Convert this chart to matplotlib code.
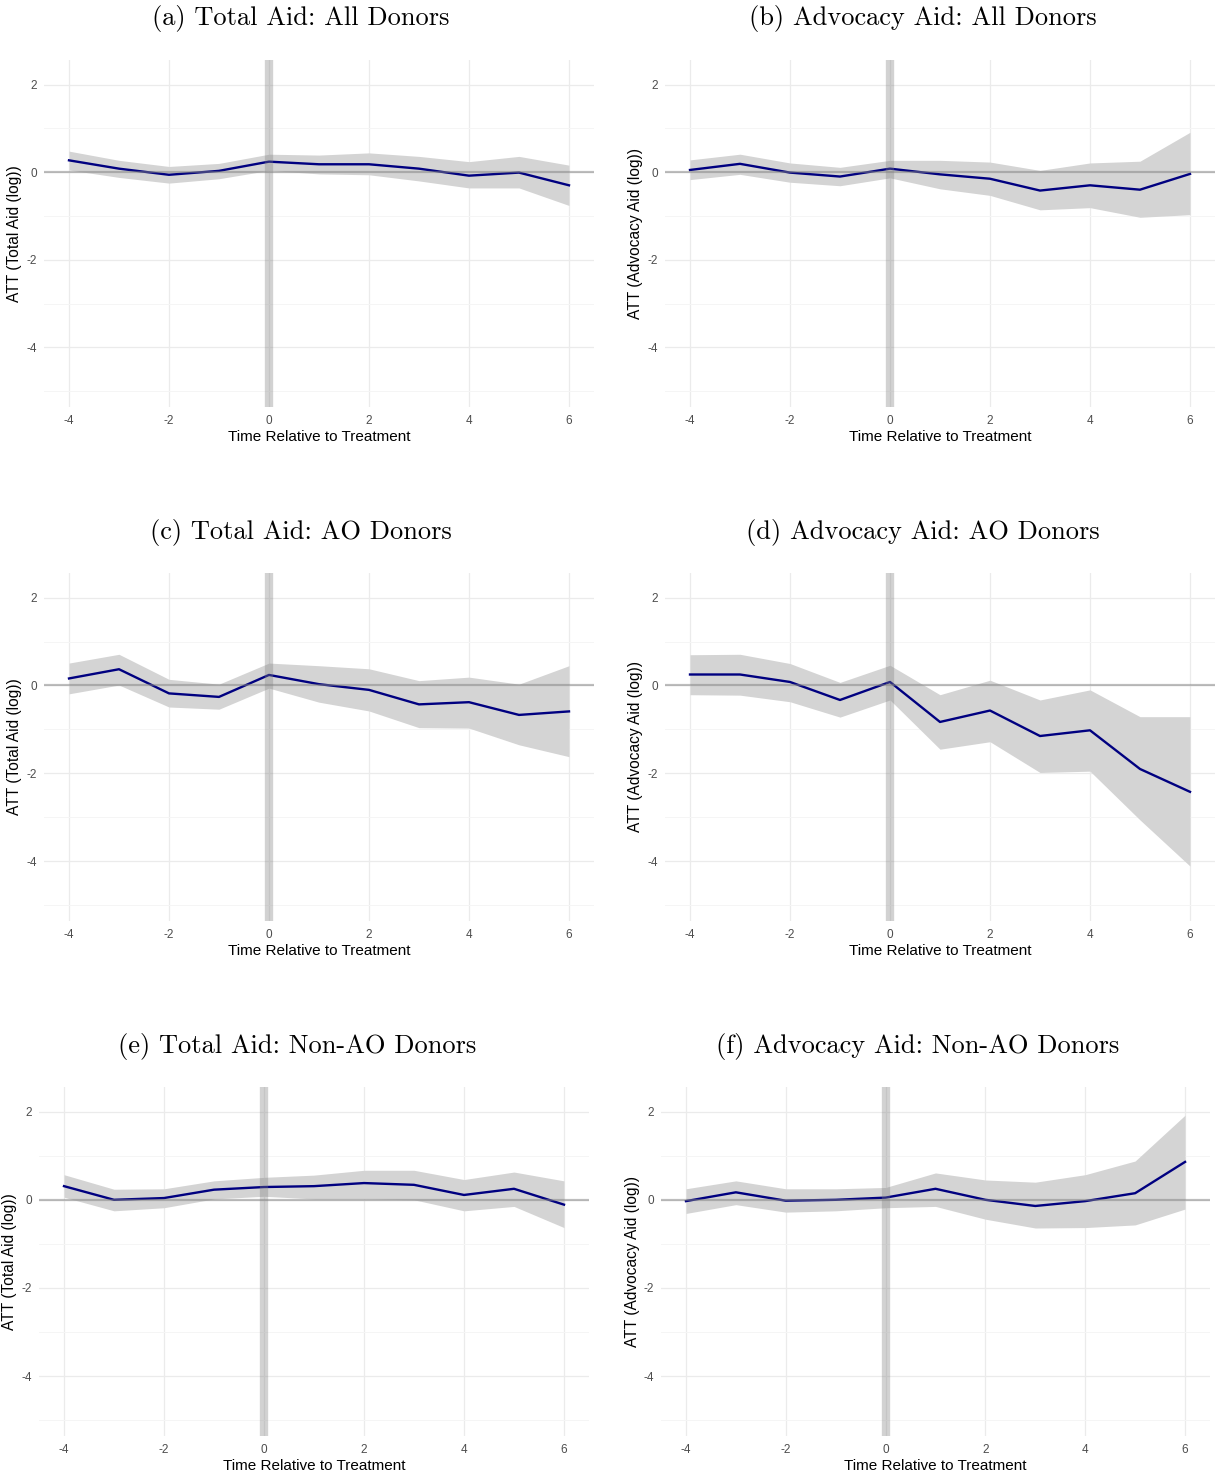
import matplotlib
matplotlib.use("Agg")
import matplotlib.pyplot as plt
import numpy as np

plt.rcParams["font.family"] = ["Liberation Sans", "DejaVu Sans"]
plt.rcParams["axes.unicode_minus"] = False

# Event time
czas = np.arange(-4, 7)

# (a) Total Aid: All Donors
a_att = [0.27, 0.08, -0.06, 0.03, 0.24, 0.18, 0.18, 0.08, -0.08, -0.01, -0.30]
a_gora = [0.48, 0.27, 0.13, 0.20, 0.41, 0.39, 0.44, 0.36, 0.24, 0.36, 0.16]
a_dol = [0.05, -0.12, -0.25, -0.15, 0.04, -0.04, -0.06, -0.20, -0.36, -0.36, -0.76]

# (b) Advocacy Aid: All Donors
b_att = [0.05, 0.19, -0.01, -0.10, 0.08, -0.05, -0.15, -0.42, -0.30, -0.40, -0.04]
b_gora = [0.28, 0.41, 0.21, 0.11, 0.27, 0.27, 0.23, 0.04, 0.21, 0.25, 0.91]
b_dol = [-0.17, -0.05, -0.23, -0.31, -0.13, -0.38, -0.53, -0.86, -0.81, -1.03, -0.97]

# (c) Total Aid: AO Donors
c_att = [0.16, 0.37, -0.18, -0.26, 0.24, 0.03, -0.10, -0.43, -0.38, -0.67, -0.59]
c_gora = [0.51, 0.71, 0.14, 0.03, 0.51, 0.45, 0.38, 0.11, 0.19, 0.03, 0.45]
c_dol = [-0.19, 0.01, -0.49, -0.54, -0.06, -0.38, -0.58, -0.96, -0.97, -1.35, -1.62]

# (d) Advocacy Aid: AO Donors
d_att = [0.25, 0.25, 0.08, -0.33, 0.08, -0.83, -0.57, -1.15, -1.02, -1.90, -2.42]
d_gora = [0.70, 0.71, 0.50, 0.07, 0.46, -0.21, 0.12, -0.33, -0.10, -0.71, -0.71]
d_dol = [-0.21, -0.22, -0.37, -0.72, -0.33, -1.45, -1.28, -1.98, -1.95, -3.06, -4.11]

# (e) Total Aid: Non-AO Donors
e_att = [0.31, 0.00, 0.04, 0.23, 0.29, 0.31, 0.38, 0.34, 0.11, 0.25, -0.11]
e_gora = [0.57, 0.24, 0.25, 0.43, 0.51, 0.56, 0.67, 0.67, 0.46, 0.63, 0.43]
e_dol = [0.06, -0.25, -0.18, 0.02, 0.08, 0.02, 0.02, 0.00, -0.25, -0.15, -0.63]

# (f) Advocacy Aid: Non-AO Donors
f_att = [-0.03, 0.17, -0.02, 0.00, 0.05, 0.25, 0.00, -0.14, -0.03, 0.15, 0.86]
f_gora = [0.25, 0.43, 0.25, 0.25, 0.28, 0.61, 0.45, 0.40, 0.57, 0.88, 1.92]
f_dol = [-0.31, -0.11, -0.28, -0.25, -0.18, -0.15, -0.44, -0.64, -0.63, -0.57, -0.21]

tytuly = [
    "(a) Total Aid: All Donors",
    "(b) Advocacy Aid: All Donors",
    "(c) Total Aid: AO Donors",
    "(d) Advocacy Aid: AO Donors",
    "(e) Total Aid: Non-AO Donors",
    "(f) Advocacy Aid: Non-AO Donors",
]
etykiety_y = [
    "ATT (Total Aid (log))",
    "ATT (Advocacy Aid (log))",
] * 3
serie = [
    (a_att, a_gora, a_dol),
    (b_att, b_gora, b_dol),
    (c_att, c_gora, c_dol),
    (d_att, d_gora, d_dol),
    (e_att, e_gora, e_dol),
    (f_att, f_gora, f_dol),
]

W, H = 1215, 1477
fig = plt.figure(figsize=(W / 100, H / 100), dpi=100)

# ramki paneli w pikselach: lewo, prawo, góra, dół, środek tytułu x, tytuł y
panele = [
    (44, 594, 60, 407, 301, 19),
    (665, 1215, 60, 407, 923, 19),
    (44, 594, 573, 921, 301, 533),
    (665, 1215, 573, 921, 923, 533),
    (39, 589, 1087, 1436, 297, 1047),
    (661, 1210, 1087, 1436, 918, 1047),
]

for (l, r, t, b, tx, ty), tytul, ety, (att, gora, dol) in zip(panele, tytuly, etykiety_y, serie):
    ax = fig.add_axes([l / W, 1 - b / H, (r - l) / W, (b - t) / H])
    ax.set_xlim(-4.5, 6.5)
    ax.set_ylim(-5.36, 2.56)
    ax.set_xticks([-4, -2, 0, 2, 4, 6])
    ax.set_yticks([-4, -2, 0, 2])
    ax.set_yticks([-5, -3, -1, 1], minor=True)
    ax.grid(True, which="major", color="#EBEBEB", linewidth=0.9)
    ax.grid(True, which="minor", axis="y", color="#F5F5F5", linewidth=0.7)
    ax.set_axisbelow(True)
    for s in ax.spines.values():
        s.set_visible(False)
    ax.tick_params(which="both", length=0, labelsize=8.5, labelcolor="#4D4D4D")
    ax.tick_params(axis="x", pad=6)
    ax.tick_params(axis="y", pad=5)

    ax.fill_between(czas, dol, gora, color="#D4D4D4", linewidth=0, zorder=2)
    ax.plot(czas, att, color="#000080", linewidth=1.7, zorder=3)
    ax.axhline(0, color="grey", alpha=0.5, linewidth=1.6, zorder=4)
    ax.axvline(0, color="grey", alpha=0.35, linewidth=6, zorder=4)

    ax.set_xlabel("Time Relative to Treatment", fontsize=11, va="center")
    ax.set_ylabel(ety, fontsize=11.2, va="center")
    ax.xaxis.set_label_coords(0.5, -30 / (b - t))
    ax.yaxis.set_label_coords(-29 / (r - l), 0.5)

    fig.text(tx / W, 1 - ty / H, tytul, ha="center", va="center",
             fontsize=19, family="cmr10")

fig.savefig("out.png", dpi=100)
